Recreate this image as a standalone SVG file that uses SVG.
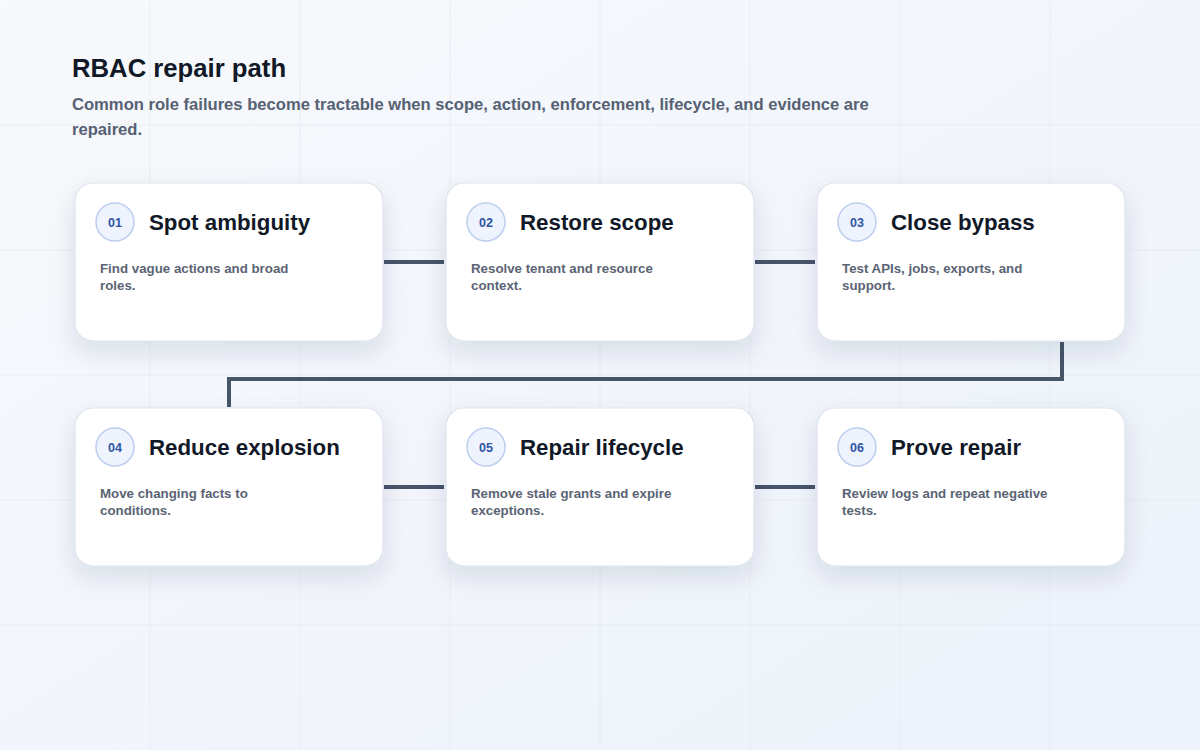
<svg xmlns="http://www.w3.org/2000/svg" width="1200" height="750" viewBox="0 0 1200 750">
  <defs>
    <linearGradient id="bg" x1="0" y1="0" x2="1" y2="1">
      <stop offset="0" stop-color="#f7f9fc"/>
      <stop offset="1" stop-color="#edf2fb"/>
    </linearGradient>
    <filter id="shadow" x="-20%" y="-20%" width="140%" height="160%">
      <feDropShadow dx="0" dy="10" stdDeviation="12" flood-color="#1e2a4a" flood-opacity="0.12"/>
    </filter>
  </defs>
  <style>
    .grid { stroke: #e3e8f1; stroke-width: 1.5; opacity: 0.4; }
    .card { fill: #ffffff; stroke: #dde3ed; stroke-width: 1.2; filter: url(#shadow); }
    .badge { fill: #eef3fd; stroke: #bccdf0; stroke-width: 1.5; }
    .num { font-family: "Liberation Sans", Arial, sans-serif; font-size: 12.5px; font-weight: 700; fill: #2f55a5; text-anchor: middle; }
    .title { font-family: "Liberation Sans", Arial, sans-serif; font-size: 22.3px; font-weight: 700; fill: #111827; }
    .desc { font-family: "Liberation Sans", Arial, sans-serif; font-size: 13.3px; font-weight: 700; fill: #5b6474; }
    .conn { fill: none; stroke: #475569; stroke-width: 4; }
    .h1 { font-family: "Liberation Sans", Arial, sans-serif; font-size: 25.7px; font-weight: 700; fill: #111827; }
    .sub { font-family: "Liberation Sans", Arial, sans-serif; font-size: 16.6px; font-weight: 700; fill: #566173; }
  </style>
  <rect width="1200" height="750" fill="url(#bg)"/>
  <g id="grid">
    <line class="grid" x1="150" y1="0" x2="150" y2="750"/>
    <line class="grid" x1="300" y1="0" x2="300" y2="750"/>
    <line class="grid" x1="450" y1="0" x2="450" y2="750"/>
    <line class="grid" x1="600" y1="0" x2="600" y2="750"/>
    <line class="grid" x1="750" y1="0" x2="750" y2="750"/>
    <line class="grid" x1="900" y1="0" x2="900" y2="750"/>
    <line class="grid" x1="1050" y1="0" x2="1050" y2="750"/>
    <line class="grid" x1="0" y1="125" x2="1200" y2="125"/>
    <line class="grid" x1="0" y1="250" x2="1200" y2="250"/>
    <line class="grid" x1="0" y1="375" x2="1200" y2="375"/>
    <line class="grid" x1="0" y1="500" x2="1200" y2="500"/>
    <line class="grid" x1="0" y1="625" x2="1200" y2="625"/>
  </g>
  <g id="header">
    <text class="h1" x="72" y="77">RBAC repair path</text>
    <text class="sub" x="72" y="110">Common role failures become tractable when scope, action, enforcement, lifecycle, and evidence are</text>
    <text class="sub" x="72" y="135">repaired.</text>
  </g>
  <g id="connectors">
    <line class="conn" x1="384" y1="262" x2="444" y2="262"/>
    <line class="conn" x1="755" y1="262" x2="815" y2="262"/>
    <path class="conn" d="M1062 342 V379 H229 V407"/>
    <line class="conn" x1="384" y1="487" x2="444" y2="487"/>
    <line class="conn" x1="755" y1="487" x2="815" y2="487"/>
  </g>
  <g id="node-01">
    <rect class="card" x="75" y="183" width="308" height="158" rx="18"/>
    <circle class="badge" cx="115" cy="222" r="19"/>
    <text class="num" x="115" y="226.5">01</text>
    <text class="title" x="149" y="229.5">Spot ambiguity</text>
    <text class="desc" x="100" y="273">Find vague actions and broad</text>
    <text class="desc" x="100" y="290">roles.</text>
  </g>
  <g id="node-02">
    <rect class="card" x="446" y="183" width="308" height="158" rx="18"/>
    <circle class="badge" cx="486" cy="222" r="19"/>
    <text class="num" x="486" y="226.5">02</text>
    <text class="title" x="520" y="229.5">Restore scope</text>
    <text class="desc" x="471" y="273">Resolve tenant and resource</text>
    <text class="desc" x="471" y="290">context.</text>
  </g>
  <g id="node-03">
    <rect class="card" x="817" y="183" width="308" height="158" rx="18"/>
    <circle class="badge" cx="857" cy="222" r="19"/>
    <text class="num" x="857" y="226.5">03</text>
    <text class="title" x="891" y="229.5">Close bypass</text>
    <text class="desc" x="842" y="273">Test APIs, jobs, exports, and</text>
    <text class="desc" x="842" y="290">support.</text>
  </g>
  <g id="node-04">
    <rect class="card" x="75" y="408" width="308" height="158" rx="18"/>
    <circle class="badge" cx="115" cy="447" r="19"/>
    <text class="num" x="115" y="451.5">04</text>
    <text class="title" x="149" y="454.5">Reduce explosion</text>
    <text class="desc" x="100" y="498">Move changing facts to</text>
    <text class="desc" x="100" y="515">conditions.</text>
  </g>
  <g id="node-05">
    <rect class="card" x="446" y="408" width="308" height="158" rx="18"/>
    <circle class="badge" cx="486" cy="447" r="19"/>
    <text class="num" x="486" y="451.5">05</text>
    <text class="title" x="520" y="454.5">Repair lifecycle</text>
    <text class="desc" x="471" y="498">Remove stale grants and expire</text>
    <text class="desc" x="471" y="515">exceptions.</text>
  </g>
  <g id="node-06">
    <rect class="card" x="817" y="408" width="308" height="158" rx="18"/>
    <circle class="badge" cx="857" cy="447" r="19"/>
    <text class="num" x="857" y="451.5">06</text>
    <text class="title" x="891" y="454.5">Prove repair</text>
    <text class="desc" x="842" y="498">Review logs and repeat negative</text>
    <text class="desc" x="842" y="515">tests.</text>
  </g>
</svg>
